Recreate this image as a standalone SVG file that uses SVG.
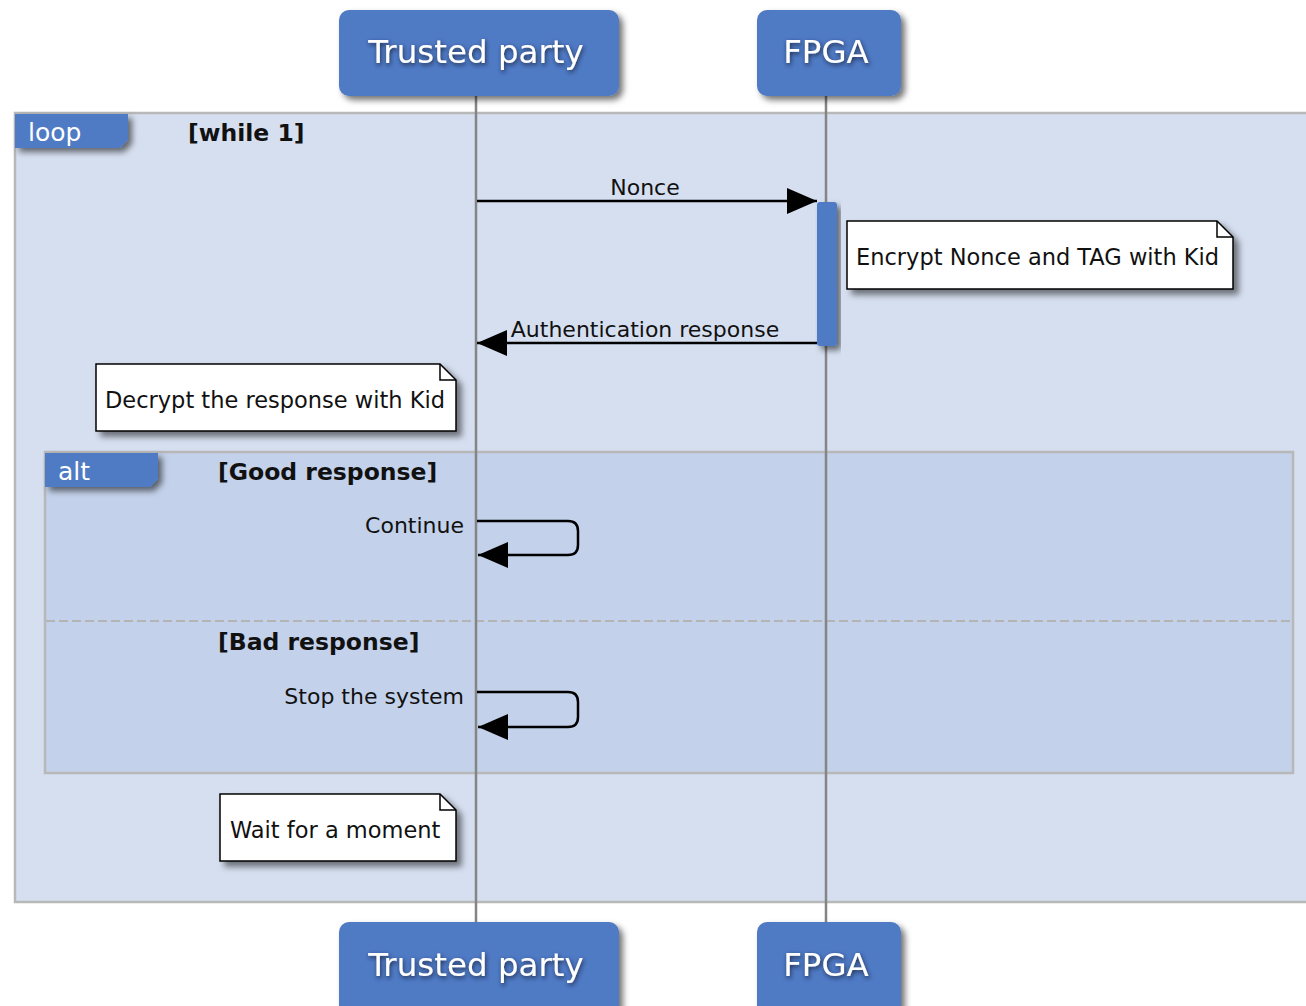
<svg xmlns="http://www.w3.org/2000/svg" width="1306" height="1006" viewBox="0 0 1306 1006">
  <defs>
    <filter id="boxShadow" x="-10%" y="-10%" width="130%" height="140%">
      <feDropShadow dx="4" dy="4" stdDeviation="3" flood-color="#000" flood-opacity="0.55"/>
    </filter>
    <filter id="noteShadow" x="-10%" y="-10%" width="130%" height="140%">
      <feDropShadow dx="5" dy="5" stdDeviation="3" flood-color="#000" flood-opacity="0.5"/>
    </filter>
    <filter id="textGlow" x="-10%" y="-30%" width="120%" height="160%">
      <feGaussianBlur in="SourceAlpha" stdDeviation="2"/>
      <feOffset dx="1" dy="2" result="blur"/>
      <feFlood flood-color="#1a2440" flood-opacity="0.9"/>
      <feComposite in2="blur" operator="in" result="shadow"/>
      <feMerge>
        <feMergeNode in="shadow"/>
        <feMergeNode in="SourceGraphic"/>
      </feMerge>
    </filter>
    <marker id="head" viewBox="0 0 30 26" refX="30" refY="13" markerWidth="30" markerHeight="26" markerUnits="userSpaceOnUse" orient="auto">
      <path d="M0,0 L30,13 L0,26 Z" fill="#000"/>
    </marker>
  </defs>
  <style>
    text { font-family: "DejaVu Sans", Verdana, sans-serif; }
    .actor { fill: #4f7ac4; }
    .actor-label { fill: #fff; font-size: 32.5px; text-anchor: middle; }
    .lifeline { stroke: #858585; stroke-width: 2.5; }
    .frame { stroke: #b8b8b8; stroke-width: 2.5; }
    .tab { fill: #4f7ac4; }
    .tab-label { fill: #fff; font-size: 25px; }
    .guard { fill: #111; font-size: 23.5px; font-weight: bold; }
    .msg { stroke: #000; stroke-width: 2.5; fill: none; }
    .msg-label { fill: #111; font-size: 22px; }
    .note { fill: #fff; stroke: #000; stroke-width: 1.5; }
    .note-label { fill: #111; font-size: 22.5px; }
  </style>

  <rect width="1306" height="1006" fill="#fff"/>

  <!-- loop frame -->
  <g id="loop-frame">
    <rect class="frame" x="15" y="113" width="1300" height="789" fill="#d6dff0"/>
    <path class="tab" d="M15,114 H128 V140 L120,148 H15 Z" filter="url(#boxShadow)"/>
    <text class="tab-label" x="28" y="141">loop</text>
    <text class="guard" x="188" y="141">[while 1]</text>
  </g>

  <!-- alt frame -->
  <g id="alt-frame">
    <rect class="frame" x="45" y="452" width="1248" height="321" fill="#c3d1ea"/>
    <line x1="46" y1="621" x2="1292" y2="621" stroke="#b4b4b4" stroke-width="2" stroke-dasharray="9 4"/>
    <path class="tab" d="M45,453 H158 V479 L150,487 H45 Z" filter="url(#boxShadow)"/>
    <text class="tab-label" x="58" y="480">alt</text>
    <text class="guard" x="218" y="480">[Good response]</text>
    <text class="guard" x="218" y="650">[Bad response]</text>
  </g>

  <!-- lifelines -->
  <g id="lifelines">
    <line class="lifeline" x1="476" y1="96" x2="476" y2="922"/>
    <line class="lifeline" x1="826" y1="96" x2="826" y2="922"/>
  </g>

  <!-- participants -->
  <g id="trusted-party-top">
    <rect class="actor" x="339" y="10" width="280" height="86" rx="10" filter="url(#boxShadow)"/>
    <text class="actor-label" x="476" y="63" filter="url(#textGlow)">Trusted party</text>
  </g>
  <g id="fpga-top">
    <rect class="actor" x="757" y="10" width="144" height="86" rx="10" filter="url(#boxShadow)"/>
    <text class="actor-label" x="826" y="63" filter="url(#textGlow)">FPGA</text>
  </g>
  <g id="trusted-party-bottom">
    <rect class="actor" x="339" y="922" width="280" height="96" rx="10" filter="url(#boxShadow)"/>
    <text class="actor-label" x="476" y="976" filter="url(#textGlow)">Trusted party</text>
  </g>
  <g id="fpga-bottom">
    <rect class="actor" x="757" y="922" width="144" height="96" rx="10" filter="url(#boxShadow)"/>
    <text class="actor-label" x="826" y="976" filter="url(#textGlow)">FPGA</text>
  </g>

  <!-- activation on FPGA -->
  <g id="fpga-activation">
    <rect class="actor" x="817" y="202" width="20" height="144" rx="3" filter="url(#boxShadow)"/>
  </g>

  <!-- messages -->
  <g id="connectors">
    <line class="msg" x1="477" y1="201" x2="817" y2="201" marker-end="url(#head)"/>
    <text class="msg-label" x="645" y="195" text-anchor="middle">Nonce</text>

    <line class="msg" x1="817" y1="343" x2="477" y2="343" marker-end="url(#head)"/>
    <text class="msg-label" x="645" y="337" text-anchor="middle">Authentication response</text>

    <path class="msg" d="M477,521 H568 Q578,521 578,531 V545 Q578,555 568,555 H478" marker-end="url(#head)"/>
    <text class="msg-label" x="464" y="533" text-anchor="end">Continue</text>

    <path class="msg" d="M477,692 H568 Q578,692 578,702 V717 Q578,727 568,727 H478" marker-end="url(#head)"/>
    <text class="msg-label" x="464" y="704" text-anchor="end">Stop the system</text>
  </g>

  <!-- notes -->
  <g id="note-encrypt">
    <path class="note" d="M847,221 H1217 L1233,237 V289 H847 Z" filter="url(#noteShadow)"/>
    <path d="M1217,221 V237 H1233" fill="none" stroke="#000" stroke-width="1.5"/>
    <text class="note-label" x="856" y="265">Encrypt Nonce and TAG with Kid</text>
  </g>
  <g id="note-decrypt">
    <path class="note" d="M96,364 H440 L456,380 V431 H96 Z" filter="url(#noteShadow)"/>
    <path d="M440,364 V380 H456" fill="none" stroke="#000" stroke-width="1.5"/>
    <text class="note-label" x="105" y="408">Decrypt the response with Kid</text>
  </g>
  <g id="note-wait">
    <path class="note" d="M220,794 H440 L456,810 V861 H220 Z" filter="url(#noteShadow)"/>
    <path d="M440,794 V810 H456" fill="none" stroke="#000" stroke-width="1.5"/>
    <text class="note-label" x="230" y="838">Wait for a moment</text>
  </g>
</svg>
